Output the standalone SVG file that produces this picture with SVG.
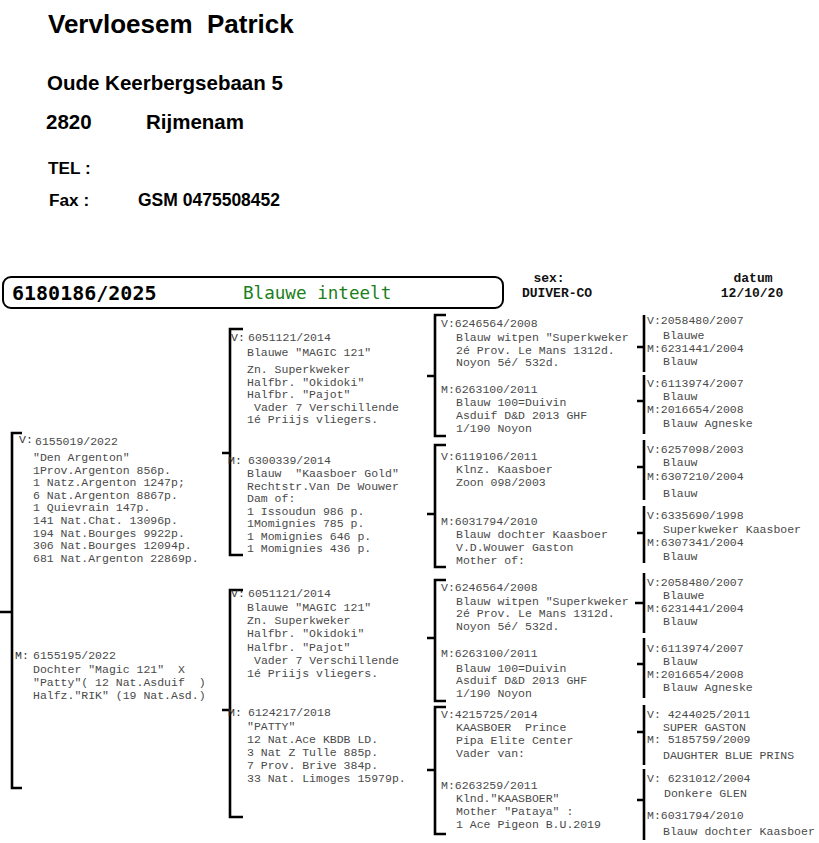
<svg xmlns="http://www.w3.org/2000/svg" width="819" height="843" viewBox="0 0 819 843">
<style>
.h{font-family:"Liberation Sans",Arial,sans-serif;font-weight:bold;fill:#000}
.t{font-family:"Liberation Mono","Courier New",monospace;font-size:11.5px;fill:#4a4a4a;white-space:pre}
.p{font-family:"Liberation Mono","Courier New",monospace;font-size:11.5px;fill:#333;white-space:pre}
.s{font-family:"Liberation Mono","Courier New",monospace;font-size:13px;fill:#111;font-weight:bold;text-anchor:middle}
.br{fill:none;stroke:#000;stroke-width:2.6}
</style>
<rect width="819" height="843" fill="#fff"/>
<g id="header">
<text class="h" x="48" y="33" font-size="26" style="white-space:pre">Vervloesem  Patrick</text>
<text class="h" x="47" y="90" font-size="20.5">Oude Keerbergsebaan 5</text>
<text class="h" x="46" y="129" font-size="20.5">2820</text>
<text class="h" x="146" y="129" font-size="20.5">Rijmenam</text>
<text class="h" x="48" y="174" font-size="17.2">TEL :</text>
<text class="h" x="49" y="206" font-size="17.2">Fax :</text>
<text class="h" x="138" y="206" font-size="17.5">GSM 0475508452</text>
</g>
<g id="title">
<rect x="3" y="277" width="500" height="31" rx="8" ry="8" fill="none" stroke="#000" stroke-width="2"/>
<text x="12" y="300" font-family="'DejaVu Sans Mono',monospace" font-size="20" font-weight="bold" fill="#000">6180186/2025</text>
<text x="243" y="299" font-family="'DejaVu Sans Mono',monospace" font-size="17.6" fill="#1a7f1a">Blauwe inteelt</text>
<text class="s" x="549" y="282">sex:</text>
<text class="s" x="557" y="297">DUIVER-CO</text>
<text class="s" x="753" y="282">datum</text>
<text class="s" x="752" y="297">12/10/20</text>
</g>
<g id="connectors">
<path class="br" d="M22,433H12V788H22M0,612H12"/>
<path class="br" d="M243,329H230V555H243M222,453H230"/>
<path class="br" d="M243,590H230V817H243M222,710H230"/>
<path class="br" d="M446,315H435V436H446M427,376H435"/>
<path class="br" d="M446,445H435V567H446M427,514H435"/>
<path class="br" d="M446,580H435V701H446M427,638H435"/>
<path class="br" d="M446,707H435V834H446M427,770H435"/>
<path class="br" d="M644,315V372M637,347H644"/>
<path class="br" d="M644,375V434M637,401H644"/>
<path class="br" d="M644,440V500M637,467H644"/>
<path class="br" d="M644,506V563M637,533H644"/>
<path class="br" d="M644,573V633M635,603H644"/>
<path class="br" d="M644,638V698M637,664H644"/>
<path class="br" d="M644,705V765M637,732H644"/>
<path class="br" d="M644,769V840M637,800H644"/>
</g>
<g id="sire">
<text class="p" x="19" y="443">V:</text>
<text class="t" x="35" y="445">6155019/2022</text>
<text class="t" x="33" y="461">"Den Argenton"</text>
<text class="t" x="33" y="473.6">1Prov.Argenton 856p.</text>
<text class="t" x="33" y="486.2">1 Natz.Argenton 1247p;</text>
<text class="t" x="33" y="498.8">6 Nat.Argenton 8867p.</text>
<text class="t" x="33" y="511.4">1 Quievrain 147p.</text>
<text class="t" x="33" y="524">141 Nat.Chat. 13096p.</text>
<text class="t" x="33" y="536.6">194 Nat.Bourges 9922p.</text>
<text class="t" x="33" y="549.2">306 Nat.Bourges 12094p.</text>
<text class="t" x="33" y="561.8">681 Nat.Argenton 22869p.</text>
</g>
<g id="dam">
<text class="p" x="15" y="659">M:</text>
<text class="t" x="33" y="659">6155195/2022</text>
<text class="t" x="33" y="672.5">Dochter "Magic 121"  X</text>
<text class="t" x="33" y="685.5">"Patty"( 12 Nat.Asduif  )</text>
<text class="t" x="33" y="698.5">Halfz."RIK" (19 Nat.Asd.)</text>
</g>
<g id="ss">
<text class="p" x="231" y="341">V:</text>
<text class="t" x="248" y="341">6051121/2014</text>
<text class="t" x="247" y="356">Blauwe "MAGIC 121"</text>
<text class="t" x="247" y="373">Zn. Superkweker</text>
<text class="t" x="247" y="385.5">Halfbr. "Okidoki"</text>
<text class="t" x="247" y="398">Halfbr. "Pajot"</text>
<text class="t" x="254" y="410.5">Vader 7 Verschillende</text>
<text class="t" x="247" y="423">1é Priijs vliegers.</text>
</g>
<g id="sd">
<text class="p" x="228" y="464">M:</text>
<text class="t" x="248" y="464">6300339/2014</text>
<text class="t" x="247" y="477">Blauw  "Kaasboer Gold"</text>
<text class="t" x="247" y="489.5">Rechtstr.Van De Wouwer</text>
<text class="t" x="247" y="502">Dam of:</text>
<text class="t" x="247" y="514.5">1 Issoudun 986 p.</text>
<text class="t" x="247" y="527">1Momignies 785 p.</text>
<text class="t" x="247" y="539.5">1 Momignies 646 p.</text>
<text class="t" x="247" y="552">1 Momignies 436 p.</text>
</g>
<g id="ds">
<text class="p" x="231" y="597">V:</text>
<text class="t" x="248" y="597">6051121/2014</text>
<text class="t" x="247" y="611">Blauwe "MAGIC 121"</text>
<text class="t" x="247" y="624">Zn. Superkweker</text>
<text class="t" x="247" y="637">Halfbr. "Okidoki"</text>
<text class="t" x="247" y="650.5">Halfbr. "Pajot"</text>
<text class="t" x="254" y="664">Vader 7 Verschillende</text>
<text class="t" x="247" y="677">1é Priijs vliegers.</text>
</g>
<g id="dd">
<text class="p" x="228" y="716">M:</text>
<text class="t" x="248" y="716">6124217/2018</text>
<text class="t" x="247" y="730">"PATTY"</text>
<text class="t" x="247" y="743">12 Nat.Ace KBDB LD.</text>
<text class="t" x="247" y="756">3 Nat Z Tulle 885p.</text>
<text class="t" x="247" y="769">7 Prov. Brive 384p.</text>
<text class="t" x="247" y="782">33 Nat. Limoges 15979p.</text>
</g>
<g id="sss">
<text class="t" x="441" y="327">V:6246564/2008</text>
<text class="t" x="456" y="341">Blauw witpen "Superkweker</text>
<text class="t" x="456" y="353.5">2é Prov. Le Mans 1312d.</text>
<text class="t" x="456" y="366">Noyon 5é/ 532d.</text>
</g>
<g id="ssd">
<text class="t" x="441" y="393">M:6263100/2011</text>
<text class="t" x="456" y="406">Blauw 100=Duivin</text>
<text class="t" x="456" y="419">Asduif D&amp;D 2013 GHF</text>
<text class="t" x="456" y="432">1/190 Noyon</text>
</g>
<g id="sds">
<text class="t" x="441" y="460">V:6119106/2011</text>
<text class="t" x="456" y="472.5">Klnz. Kaasboer</text>
<text class="t" x="456" y="486">Zoon 098/2003</text>
</g>
<g id="sdd">
<text class="t" x="441" y="525">M:6031794/2010</text>
<text class="t" x="456" y="538">Blauw dochter Kaasboer</text>
<text class="t" x="456" y="551">V.D.Wouwer Gaston</text>
<text class="t" x="456" y="564">Mother of:</text>
</g>
<g id="dss">
<text class="t" x="441" y="591">V:6246564/2008</text>
<text class="t" x="456" y="604.5">Blauw witpen "Superkweker</text>
<text class="t" x="456" y="617">2é Prov. Le Mans 1312d.</text>
<text class="t" x="456" y="629.5">Noyon 5é/ 532d.</text>
</g>
<g id="dsd">
<text class="t" x="441" y="657">M:6263100/2011</text>
<text class="t" x="456" y="671.5">Blauw 100=Duivin</text>
<text class="t" x="456" y="684">Asduif D&amp;D 2013 GHF</text>
<text class="t" x="456" y="697">1/190 Noyon</text>
</g>
<g id="dds">
<text class="t" x="441" y="718">V:4215725/2014</text>
<text class="t" x="456" y="731">KAASBOER  Prince</text>
<text class="t" x="456" y="744">Pipa Elite Center</text>
<text class="t" x="456" y="757">Vader van:</text>
</g>
<g id="ddd">
<text class="t" x="441" y="789">M:6263259/2011</text>
<text class="t" x="456" y="802">Klnd."KAASBOER"</text>
<text class="t" x="456" y="815">Mother "Pataya" :</text>
<text class="t" x="456" y="828">1 Ace Pigeon B.U.2019</text>
</g>
<g id="g4-1">
<text class="t" x="647" y="324">V:2058480/2007</text>
<text class="t" x="663" y="338.5">Blauwe</text>
<text class="t" x="647" y="352">M:6231441/2004</text>
<text class="t" x="663" y="365">Blauw</text>
</g>
<g id="g4-2">
<text class="t" x="647" y="387">V:6113974/2007</text>
<text class="t" x="663" y="400">Blauw</text>
<text class="t" x="647" y="413">M:2016654/2008</text>
<text class="t" x="663" y="427">Blauw Agneske</text>
</g>
<g id="g4-3">
<text class="t" x="647" y="453">V:6257098/2003</text>
<text class="t" x="663" y="466">Blauw</text>
<text class="t" x="647" y="480">M:6307210/2004</text>
<text class="t" x="663" y="497">Blauw</text>
</g>
<g id="g4-4">
<text class="t" x="647" y="519">V:6335690/1998</text>
<text class="t" x="663" y="533">Superkweker Kaasboer</text>
<text class="t" x="647" y="546">M:6307341/2004</text>
<text class="t" x="663" y="560">Blauw</text>
</g>
<g id="g4-5">
<text class="t" x="647" y="586">V:2058480/2007</text>
<text class="t" x="663" y="599">Blauwe</text>
<text class="t" x="647" y="612">M:6231441/2004</text>
<text class="t" x="663" y="625">Blauw</text>
</g>
<g id="g4-6">
<text class="t" x="647" y="652">V:6113974/2007</text>
<text class="t" x="663" y="665">Blauw</text>
<text class="t" x="647" y="678">M:2016654/2008</text>
<text class="t" x="663" y="691">Blauw Agneske</text>
</g>
<g id="g4-7">
<text class="t" x="647" y="718">V: 4244025/2011</text>
<text class="t" x="663" y="730.5">SUPER GASTON</text>
<text class="t" x="647" y="743">M: 5185759/2009</text>
<text class="t" x="663" y="759">DAUGHTER BLUE PRINS</text>
</g>
<g id="g4-8">
<text class="t" x="647" y="782">V: 6231012/2004</text>
<text class="t" x="664" y="797">Donkere GLEN</text>
<text class="t" x="647" y="819">M:6031794/2010</text>
<text class="t" x="663" y="835">Blauw dochter Kaasboer</text>
</g>
</svg>
